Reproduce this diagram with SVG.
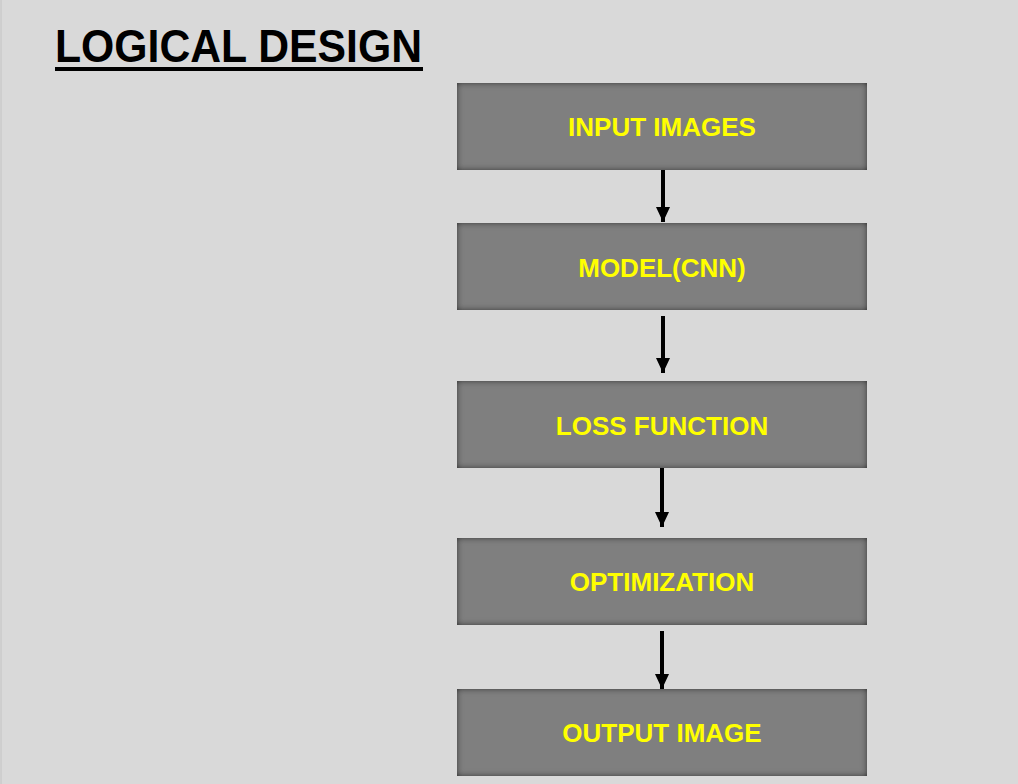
<svg xmlns="http://www.w3.org/2000/svg" width="1018" height="784" viewBox="0 0 1018 784">
<defs>
<style>
.box{fill:#7f7f7f;filter:url(#inset)}
.lbl{font-family:"Liberation Sans",Arial,sans-serif;font-weight:bold;font-size:26px;fill:#ffff00;text-anchor:middle}
.title{font-family:"Liberation Sans",Arial,sans-serif;font-weight:bold;font-size:46px;fill:#000}
.conn{stroke:#000;stroke-width:4;fill:none;marker-end:url(#ah)}
</style>
<filter id="inset" x="-5%" y="-20%" width="110%" height="140%">
<feFlood flood-color="#111111" result="f"/>
<feComposite in="f" in2="SourceAlpha" operator="out" result="o"/>
<feGaussianBlur in="o" stdDeviation="3" result="b"/>
<feComposite in="b" in2="SourceAlpha" operator="in" result="s"/>
<feMerge><feMergeNode in="SourceGraphic"/><feMergeNode in="s"/></feMerge>
</filter>
<marker id="ah" viewBox="0 0 15 14" refX="15" refY="7" markerWidth="15" markerHeight="14" markerUnits="userSpaceOnUse" orient="auto">
<path d="M0,0 L15,7 L0,14 Z" fill="#000"/>
</marker>
</defs>
<rect x="0" y="0" width="1018" height="784" fill="#d9d9d9"/>
<line x1="1" y1="0" x2="1" y2="784" stroke="#c4c4c4" stroke-width="1"/>
<g id="title">
<text class="title" x="55" y="62" textLength="367" lengthAdjust="spacingAndGlyphs">LOGICAL DESIGN</text>
<rect x="55" y="67" width="368" height="4" fill="#000"/>
</g>
<g id="n1"><rect class="box" x="457" y="83" width="410" height="87"/><text class="lbl" x="662" y="136">INPUT IMAGES</text></g>
<g id="n2"><rect class="box" x="457" y="223" width="410" height="87"/><text class="lbl" x="662" y="277">MODEL(CNN)</text></g>
<g id="n3"><rect class="box" x="457" y="381" width="410" height="87"/><text class="lbl" x="662" y="435">LOSS FUNCTION</text></g>
<g id="n4"><rect class="box" x="457" y="538" width="410" height="87"/><text class="lbl" x="662" y="591">OPTIMIZATION</text></g>
<g id="n5"><rect class="box" x="457" y="689" width="410" height="87"/><text class="lbl" x="662" y="742">OUTPUT IMAGE</text></g>
<g id="connectors">
<line class="conn" x1="663" y1="170" x2="663" y2="222"/>
<line class="conn" x1="663" y1="316" x2="663" y2="373"/>
<line class="conn" x1="662" y1="468" x2="662" y2="527"/>
<line class="conn" x1="662" y1="631" x2="662" y2="689"/>
</g>
</svg>
